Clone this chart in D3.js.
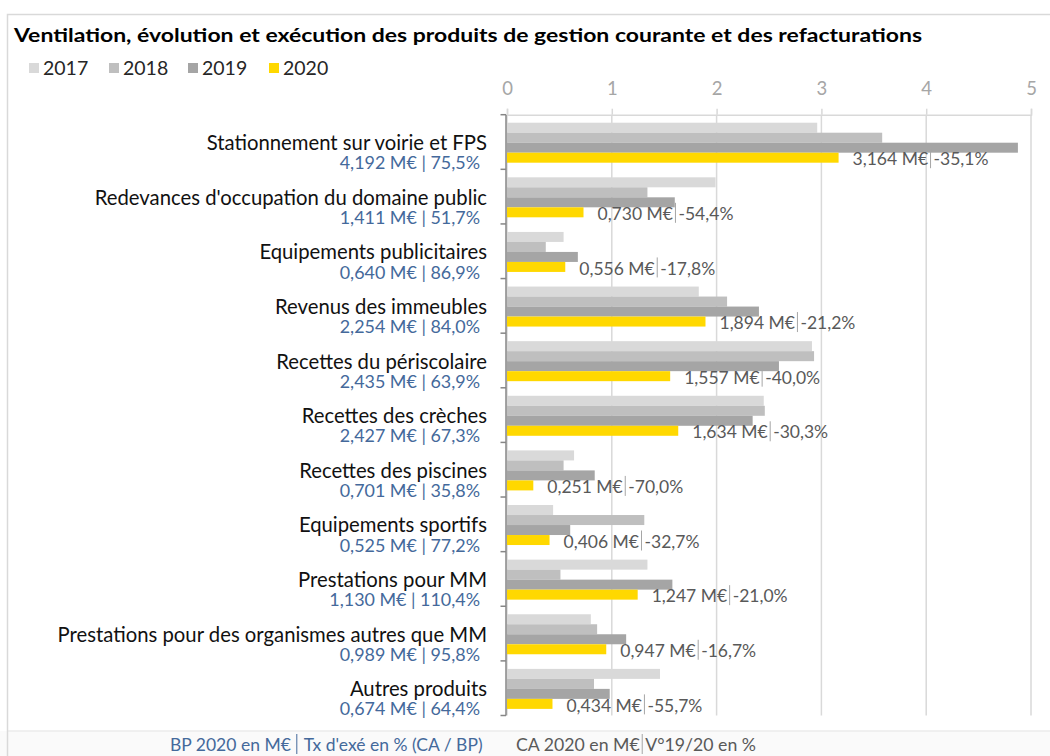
<!DOCTYPE html>
<html><head><meta charset="utf-8">
<script src="https://cdn.jsdelivr.net/npm/d3@7/dist/d3.min.js"></script>
<style>
html,body{margin:0;padding:0;background:#fff;}
svg{display:block;font-family:Lato,"Open Sans",sans-serif;}
</style></head>
<body>
<svg id="chart" width="1050" height="756"></svg>
<script>
const title = "Ventilation, évolution et exécution des produits de gestion courante et des refacturations";
const categories = ["Stationnement sur voirie et FPS","Redevances d'occupation du domaine public","Equipements publicitaires","Revenus des immeubles","Recettes du périscolaire","Recettes des crèches","Recettes des piscines","Equipements sportifs","Prestations pour MM","Prestations pour des organismes autres que MM","Autres produits"];
const years = ["2017","2018","2019","2020"];
const v2017 = [2.96, 1.99, 0.54, 1.83, 2.91, 2.45, 0.64, 0.44, 1.34, 0.80, 1.46];
const v2018 = [3.58, 1.34, 0.37, 2.10, 2.93, 2.46, 0.54, 1.31, 0.51, 0.86, 0.83];
const v2019 = [4.875, 1.601, 0.676, 2.404, 2.595, 2.344, 0.837, 0.603, 1.578, 1.137, 0.980];
const v2020 = [3.164, 0.730, 0.556, 1.894, 1.557, 1.634, 0.251, 0.406, 1.247, 0.947, 0.434];
const bp2020 = [4.192, 1.411, 0.640, 2.254, 2.435, 2.427, 0.701, 0.525, 1.130, 0.989, 0.674];
const txExe = [75.5, 51.7, 86.9, 84.0, 63.9, 67.3, 35.8, 77.2, 110.4, 95.8, 64.4];
const var1920 = [-35.1, -54.4, -17.8, -21.2, -40.0, -30.3, -70.0, -32.7, -21.0, -16.7, -55.7];
const xTicks = [0,1,2,3,4,5];
const colors = ["#d9d9d9","#bfbfbf","#a5a5a5","#ffd800"];
const footerLeft = ["BP 2020 en M€","Tx d'exé en % (CA / BP)"];
const footerRight = ["CA 2020 en M€","V°19/20 en %"];

const series = [v2017, v2018, v2019, v2020];
const loc = d3.formatLocale({decimal:",", thousands:" ", grouping:[3], currency:["","€"], minus:"-"});
const f3 = loc.format(".3f"), f1 = loc.format(".1f");

const svg = d3.select("#chart");
const W = 1050, H = 756;

// frame
svg.append("rect").attr("x",0).attr("y",731).attr("width",W).attr("height",H-731).attr("fill","#fafafa");
svg.append("line").attr("x1",7.5).attr("x2",W).attr("y1",731).attr("y2",731).attr("stroke","#ebebeb").attr("stroke-width",1.5);
svg.append("path").attr("d",`M7.5,${H} V14.5 H${W}`).attr("fill","none").attr("stroke","#d9d9d9").attr("stroke-width",1.5);

// title
svg.append("text").attr("x",14).attr("y",42).attr("font-size",19.5).attr("font-weight","bold").attr("fill","#000")
  .attr("textLength",908).attr("lengthAdjust","spacingAndGlyphs").text(title);

// legend
const legX = [29,109,188,269];
years.forEach((yr,i)=>{
  svg.append("rect").attr("x",legX[i]).attr("y",63).attr("width",10).attr("height",10).attr("fill",colors[i]);
  svg.append("text").attr("x",legX[i]+14).attr("y",75).attr("font-size",19.5).attr("fill","#262626").text(yr);
});

const x = d3.scaleLinear().domain([0,5]).range([507,1031]);
const y = d3.scaleBand().domain(categories).range([114.7,715.5]);
const y1 = d3.scaleBand().domain(years).range([8,48]);

// gridlines
svg.append("g").selectAll("line").data(xTicks).join("line")
  .attr("x1",d=>x(d)).attr("x2",d=>x(d)).attr("y1",114.7).attr("y2",715.5)
  .attr("stroke","#d9d9d9").attr("stroke-width",1.5);

// top axis
const ax = svg.append("g").attr("transform","translate(0,114.7)")
  .call(d3.axisTop(x).tickValues(xTicks).tickSize(6).tickPadding(14).tickFormat(d=>d));
ax.select(".domain").attr("stroke","#d9d9d9").attr("stroke-width",1.5);
ax.selectAll(".tick line").attr("stroke","#d9d9d9").attr("stroke-width",1.5);
ax.selectAll(".tick text").attr("fill","#a6a6a6").attr("font-size",18.5).attr("font-family","Lato,sans-serif");

// bars
const g = svg.append("g");
categories.forEach((c,ci)=>{
  years.forEach((yr,si)=>{
    g.append("rect").attr("x",x(0)).attr("y",y(c)+y1(yr)).attr("width",x(series[si][ci])-x(0))
      .attr("height",y1.bandwidth()).attr("fill",colors[si]);
  });
});

// category axis
const yTop = y.range()[0], yBot = y.range()[1];
svg.append("line").attr("x1",506).attr("x2",506).attr("y1",yTop).attr("y2",yBot).attr("stroke","#868686").attr("stroke-width",1.5);
const bounds = categories.map(c=>y(c)).concat([yBot]);
svg.append("g").selectAll("line").data(bounds).join("line")
  .attr("x1",500.5).attr("x2",506).attr("y1",d=>d).attr("y2",d=>d).attr("stroke","#868686").attr("stroke-width",1.5);

// category labels
categories.forEach((c,ci)=>{
  const cy = y(c)+y.bandwidth()/2;
  svg.append("text").attr("x",487).attr("y",cy+1).attr("dy","0.35em").attr("text-anchor","end")
    .attr("font-size",20.3).attr("fill","#111").text(c);
  svg.append("text").attr("x",480).attr("y",cy+21).attr("dy","0.35em").attr("text-anchor","end")
    .attr("font-size",17.9).attr("fill","#44699b").text(`${f3(bp2020[ci])} M€ | ${f1(txExe[ci])}%`);
});

// data labels
function sepLabel(x0, cy, a, b, color, sepColor, fs, gap1, gap2){
  const t1 = svg.append("text").attr("x",x0).attr("y",cy).attr("dy","0.35em").attr("font-size",fs).attr("fill",color).text(a);
  const w = t1.node().getComputedTextLength();
  const lx = x0 + w + gap1;
  svg.append("line").attr("x1",lx).attr("x2",lx).attr("y1",cy-11).attr("y2",cy+9).attr("stroke",sepColor).attr("stroke-width",1);
  svg.append("text").attr("x",lx+gap2).attr("y",cy).attr("dy","0.35em").attr("font-size",fs).attr("fill",color).text(b);
}
categories.forEach((c,ci)=>{
  const cy = y(c)+y1("2020")+y1.bandwidth()/2+1.5;
  sepLabel(x(v2020[ci])+14, cy, `${f3(v2020[ci])} M€`, `${f1(var1920[ci])}%`, "#595959", "#a6a6a6", 17.5, 2.5, 3);
});

// footer
const cyF = 745;
sepLabel(170, cyF, footerLeft[0], footerLeft[1], "#44699b", "#44699b", 17.5, 6, 7);
sepLabel(516, cyF, footerRight[0], footerRight[1], "#595959", "#a6a6a6", 17.7, 2.5, 3);
</script>
</body></html>
